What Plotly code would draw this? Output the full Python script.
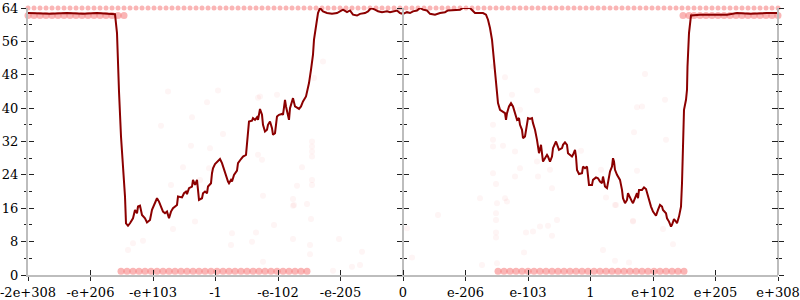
import plotly.graph_objects as go

# ---- tick labels (ordinal float axis) ----
XTICK_VALS = [-375, -312.5, -250, -187.5, -125, -62.5, 0, 62.5, 125, 187.5, 250, 312.5, 375]
XTICK_TEXT = ["-2e+308", "-e+206", "-e+103", "-1", "-e-102", "-e-205", "0",
              "e-206", "e-103", "1", "e+102", "e+205", "e+308"]

# ---- error line (ordinal x, bits of error) ----
LINE_X = [-375, -353, -336, -320, -306, -288, -286, -285, -284, -282, -280, -278, -277, -275, -273,
          -271, -270, -268, -266, -265, -263, -261, -258, -256, -253, -251, -249, -246, -244, -241,
          -240, -238, -236, -234, -232, -230, -226, -225, -221, -219, -217, -216, -214, -211, -210,
          -208, -206, -205, -204, -201, -200, -198, -196, -195, -192, -191, -190, -188, -185, -183,
          -181, -178, -175, -174, -172, -171, -169, -166, -165, -162, -160, -157, -156, -155, -154,
          -151, -150, -148, -146, -145, -143, -141, -140, -138, -136, -135, -133, -131, -130, -128,
          -126, -124, -121, -120, -118, -117, -115, -114, -113, -111, -110, -108, -106, -104, -102,
          -100, -97, -95, -94, -92, -90, -89, -87, -85, -83, -80, -76, -71, -66, -63, -60, -56, -53,
          -50, -46, -43, -38, -35, -32, -28, -25, -21, -16, -13, -10, -6, -3, 0, 4, 7, 10, 14, 17, 20,
          24, 27, 32, 37, 42, 45, 57, 60, 67, 70, 72, 80, 83, 85, 87, 89, 90, 91, 92, 94, 95, 97, 100,
          102, 103, 104, 106, 108, 110, 111, 113, 114, 116, 117, 119, 120, 122, 124, 125, 127, 129,
          130, 132, 134, 135, 136, 138, 139, 140, 142, 144, 145, 147, 149, 150, 153, 154, 156, 159,
          160, 162, 164, 165, 167, 169, 170, 172, 173, 174, 176, 179, 180, 182, 184, 185, 186, 189,
          190, 193, 195, 197, 199, 200, 202, 204, 205, 207, 209, 210, 211, 212, 214, 215, 217, 219,
          220, 222, 224, 225, 227, 229, 230, 232, 234, 235, 236, 239, 241, 243, 245, 246, 248, 250,
          251, 253, 255, 257, 259, 260, 263, 264, 266, 268, 269, 271, 273, 274, 276, 278, 279, 280,
          280.5, 281, 283, 284, 284.5, 286, 288, 297, 314, 324, 334, 347, 364, 375]
LINE_Y = [62.8, 62.6, 62.8, 62.6, 62.8, 62.5, 58.0, 50.0, 44.0, 33.2, 26.8, 18.8, 12.4, 11.8, 12.4,
          13.2, 13.6, 15.6, 14.8, 16.4, 16.6, 14.4, 13.6, 12.6, 13.2, 15.6, 16.8, 18.4, 17.6, 16.0,
          15.2, 14.8, 15.2, 13.6, 15.2, 16.0, 16.8, 18.8, 18.6, 19.6, 20.0, 19.4, 20.8, 21.2, 22.8,
          21.6, 22.8, 20.4, 18.0, 18.4, 19.6, 20.0, 19.6, 21.2, 22.0, 24.4, 25.6, 26.6, 27.2, 27.8,
          26.8, 24.4, 22.4, 22.0, 22.8, 22.4, 24.0, 25.0, 26.8, 27.8, 28.4, 28.8, 31.6, 34.8, 36.8,
          37.0, 37.6, 37.2, 37.8, 37.2, 39.8, 38.4, 36.0, 34.4, 34.8, 36.0, 36.8, 35.2, 33.6, 34.0,
          38.0, 38.4, 38.6, 38.4, 42.0, 40.4, 38.4, 37.2, 40.0, 41.6, 42.4, 40.4, 40.0, 39.8, 40.4,
          41.6, 42.8, 44.8, 46.0, 49.2, 52.8, 56.4, 59.6, 62.8, 64.0, 63.2, 62.8, 62.6, 62.8, 63.2,
          63.6, 63.0, 63.4, 62.4, 62.2, 62.6, 62.8, 63.2, 64.0, 63.6, 63.2, 63.0, 63.2, 63.0, 63.2,
          63.4, 62.8, 62.6, 63.0, 62.8, 63.2, 63.4, 64.0, 63.6, 63.4, 62.6, 62.4, 62.8, 63.0, 63.4,
          63.6, 64.0, 64.0, 63.4, 62.8, 62.8, 62.4, 61.2, 59.2, 56.4, 54.0, 50.8, 47.6, 44.4, 41.2,
          39.6, 39.2, 38.8, 37.2, 38.8, 40.4, 41.2, 40.4, 39.6, 38.0, 37.2, 37.6, 36.0, 34.8, 32.8,
          33.2, 35.6, 37.6, 37.4, 37.6, 36.4, 34.8, 32.4, 30.0, 29.2, 31.2, 29.2, 27.2, 28.0, 28.8,
          28.4, 27.2, 28.4, 30.4, 32.0, 31.2, 30.0, 30.4, 31.2, 31.8, 31.2, 29.2, 28.8, 28.4, 28.8,
          30.0, 28.4, 25.2, 24.2, 24.4, 26.0, 25.6, 26.0, 23.6, 21.6, 21.6, 22.8, 23.4, 23.2, 22.4,
          22.0, 23.6, 21.2, 20.8, 22.4, 24.8, 26.0, 28.0, 27.2, 25.2, 24.0, 23.6, 22.8, 20.4, 18.4,
          17.2, 18.0, 19.6, 18.4, 17.6, 17.2, 18.4, 19.6, 18.4, 20.4, 20.4, 21.0, 20.6, 18.8, 17.6,
          16.4, 15.2, 14.8, 14.2, 15.6, 16.8, 16.4, 15.6, 14.8, 13.6, 12.8, 11.6, 12.0, 13.4, 12.8,
          12.4, 14.0, 16.4, 22.0, 28.4, 34.8, 39.6, 42.0, 44.4, 50.0, 58.0, 62.2, 62.4, 62.4, 62.4,
          62.8, 62.6, 62.8, 62.8]

# ---- sampled points: dense bands ----
BAND_TOP_X = [-375, -369, -363, -357, -351, -345, -339, -333, -327, -321, -315, -309, -303, -297,
              -291, -285, -279, -273, -267, -261, -255, -249, -243, -237, -231, -225, -219, -213,
              -207, -201, -195, -189, -183, -177, -171, -165, -159, -153, -147, -141, -135, -129,
              -123, -117, -111, -105, -99, -93, -87, -81, -75, -69, -63, -57, -51, -45, -39, -33,
              -27, -21, -15, -9, -3, 3, 9, 15, 21, 27, 33, 39, 45, 51, 57, 63, 69, 75, 81, 87, 93,
              99, 105, 111, 117, 123, 129, 135, 141, 147, 153, 159, 165, 171, 177, 183, 189, 195,
              201, 207, 213, 219, 225, 231, 237, 243, 249, 255, 261, 267, 273, 279, 285, 291, 297,
              303, 309, 315, 321, 327, 333, 339, 345, 351, 357, 363, 369, 375]
BAND_TOP_Y = 64
BAND_HIGH_LEFT_X = [-375, -369, -363, -357, -351, -345, -339, -333, -327, -321, -315, -309, -303,
                    -297, -291, -285, -279]
BAND_HIGH_RIGHT_X = [280, 286, 291, 297, 303, 309, 315, 321, 327, 333, 339, 345, 351, 357, 363,
                     369, 375]
BAND_HIGH_Y = 62.2
BAND_LOW_LEFT_X = [-282, -276, -270, -264, -258, -252, -246, -240, -234, -228, -222, -216, -210,
                   -204, -198, -192, -186, -180, -174, -168, -162, -156, -150, -144, -138, -132,
                   -126, -120, -114, -108, -102, -96]
BAND_LOW_RIGHT_X = [95, 101, 107, 113, 119, 125, 131, 137, 143, 149, 155, 161, 167, 173, 179, 185,
                    191, 197, 203, 209, 215, 221, 227, 233, 239, 245, 251, 257, 263, 269, 275, 281]
BAND_LOW_Y = 0.9

# ---- sampled points: isolated ----
PTS_X = [-275, -270, -260, -230, -208, -171, -172, -147, -151, -129, -140, -110, -109, -96, -92,
         -93, -93, -64, -41, -51, -43, -70, 4, 9, 35, 79, 94, 93, 93, 93, 93, 94, 104, 123, 130,
         137, 145, 154, 149, 121, 213, 230, 200, 212, 226, 260, 270, -235, -185, -196, -143, -126,
         -211, -242, -180, -212, -193, -145, -141, -220, -194, -203, -232, -106, -140, -110, -110,
         90, 102, 134, 109, 117, 90, 90, 90, 100, 112, 134, 90, 93, 117, 112, 135, 147, 149, 77,
         102, 234, 239, 262, 231, 263, 178, 198, 234, 203, 212, 230, 242, -145, -80, -89, -91, -91,
         -91, -91, -101, -91, -91]
PTS_Y = [6.0, 7.6, 8.2, 11.0, 12.8, 10.0, 7.2, 10.2, 8.0, 12.0, 3.2, 8.6, 16.8, 17.0, 13.4, 7.2,
         5.0, 8.6, 5.6, 2.0, 2.4, 1.0, 11.2, 4.2, 14.4, 2.4, 17.2, 14.8, 13.2, 10.2, 9.0, 2.8, 17.6,
         10.2, 10.4, 11.6, 11.8, 13.2, 9.4, 5.4, 16.8, 12.8, 6.0, 3.4, 3.0, 11.0, 7.4, 44.0, 44.2,
         41.4, 42.8, 43.2, 37.8, 35.8, 33.8, 31.0, 30.4, 28.8, 27.6, 25.8, 25.6, 22.8, 21.6, 21.4,
         19.0, 18.2, 16.6, 50.0, 47.4, 44.2, 43.2, 39.6, 36.0, 32.4, 30.8, 31.0, 29.6, 27.2, 24.4,
         21.8, 25.6, 23.6, 23.6, 25.2, 20.8, 18.4, 18.4, 40.2, 40.4, 42.0, 34.2, 32.4, 29.8, 25.2,
         25.0, 18.6, 16.8, 13.0, 48.2, 42.5, 51.2, 47.2, 32.0, 30.8, 29.6, 28.4, 25.8, 22.8, 21.6]

AXIS_GRAY = "#bdbdbd"
TICK_COLOR = "#222222"
FONT = dict(family="DejaVu Serif", size=13, color="#000000")

fig = go.Figure()

band_color = "rgba(240,30,30,0.33)"
for bx, by, sz in [(BAND_TOP_X, BAND_TOP_Y, 5), (BAND_HIGH_LEFT_X, BAND_HIGH_Y, 7),
                   (BAND_HIGH_RIGHT_X, BAND_HIGH_Y, 7), (BAND_LOW_LEFT_X, BAND_LOW_Y, 7),
                   (BAND_LOW_RIGHT_X, BAND_LOW_Y, 7)]:
    fig.add_trace(go.Scatter(x=bx, y=[by] * len(bx), mode="markers",
                             marker=dict(color=band_color, size=sz, line=dict(width=0)),
                             cliponaxis=False, showlegend=False, hoverinfo="skip"))

fig.add_trace(go.Scatter(x=PTS_X, y=PTS_Y, mode="markers",
                         marker=dict(color="rgba(235,20,20,0.045)", size=6, line=dict(width=0)),
                         showlegend=False, hoverinfo="skip"))

fig.add_trace(go.Scatter(x=LINE_X, y=LINE_Y, mode="lines",
                         line=dict(color="#8b0000", width=2), cliponaxis=False,
                         showlegend=False, hoverinfo="skip"))

# empty traces to anchor the extra axes
for ya in ["y2", "y3", "y4", "y5", "y6"]:
    fig.add_trace(go.Scatter(x=[], y=[], yaxis=ya, showlegend=False))
fig.add_trace(go.Scatter(x=[], y=[], xaxis="x2", showlegend=False))

YR = [0, 64]
base_y = dict(range=YR, tickmode="linear", tick0=0, dtick=8, showgrid=False, zeroline=False,
              tickcolor=TICK_COLOR, tickwidth=1, automargin=False,
              minor=dict(tick0=0, dtick=4, ticklen=2.5, tickcolor=TICK_COLOR, tickwidth=1))

def yax(**kw):
    d = dict(base_y)
    d["minor"] = dict(base_y["minor"])
    if "ticks" in kw:
        d["minor"]["ticks"] = kw["ticks"]
    d.update(kw)
    return d

fig.update_layout(
    width=800, height=300,
    margin=dict(l=28, r=22, t=8, b=25, pad=0, autoexpand=False),
    paper_bgcolor="white", plot_bgcolor="white",
    font=FONT,
    xaxis=dict(range=[-375, 375], tickmode="array", tickvals=XTICK_VALS, ticktext=XTICK_TEXT,
               ticks="outside", ticklen=4, tickcolor=TICK_COLOR, tickwidth=1, automargin=False,
               ticklabeloverflow="allow",
               showline=True, linecolor=AXIS_GRAY, linewidth=2, showgrid=False, zeroline=False,
               tickfont=FONT, anchor="y"),
    xaxis2=dict(range=[-375, 375], overlaying="x", anchor="y", side="bottom", tickmode="array",
                tickvals=XTICK_VALS, ticks="inside", ticklen=5, tickcolor=TICK_COLOR,
                automargin=False,
                showticklabels=False, showline=False, showgrid=False, zeroline=False),
    yaxis=yax(ticks="outside", ticklen=5, showline=True, linecolor=AXIS_GRAY, linewidth=2,
              tickfont=FONT, anchor="x", ticklabeloverflow="allow"),
    yaxis2=yax(ticks="inside", ticklen=5, overlaying="y", anchor="free", position=0,
               side="left", showticklabels=False, showline=False),
    yaxis3=yax(ticks="outside", ticklen=5, overlaying="y", anchor="free", position=0.5,
               side="left", showticklabels=False, showline=True, linecolor=AXIS_GRAY,
               linewidth=2),
    yaxis4=yax(ticks="inside", ticklen=5, overlaying="y", anchor="free", position=0.5,
               side="left", showticklabels=False, showline=False),
    yaxis5=yax(ticks="outside", ticklen=5, overlaying="y", anchor="free", position=1,
               side="right", showticklabels=False, showline=True, linecolor=AXIS_GRAY,
               linewidth=2),
    yaxis6=yax(ticks="inside", ticklen=6, overlaying="y", anchor="free", position=1,
               side="right", showticklabels=False, showline=False),
)

fig.write_html("out.html")
